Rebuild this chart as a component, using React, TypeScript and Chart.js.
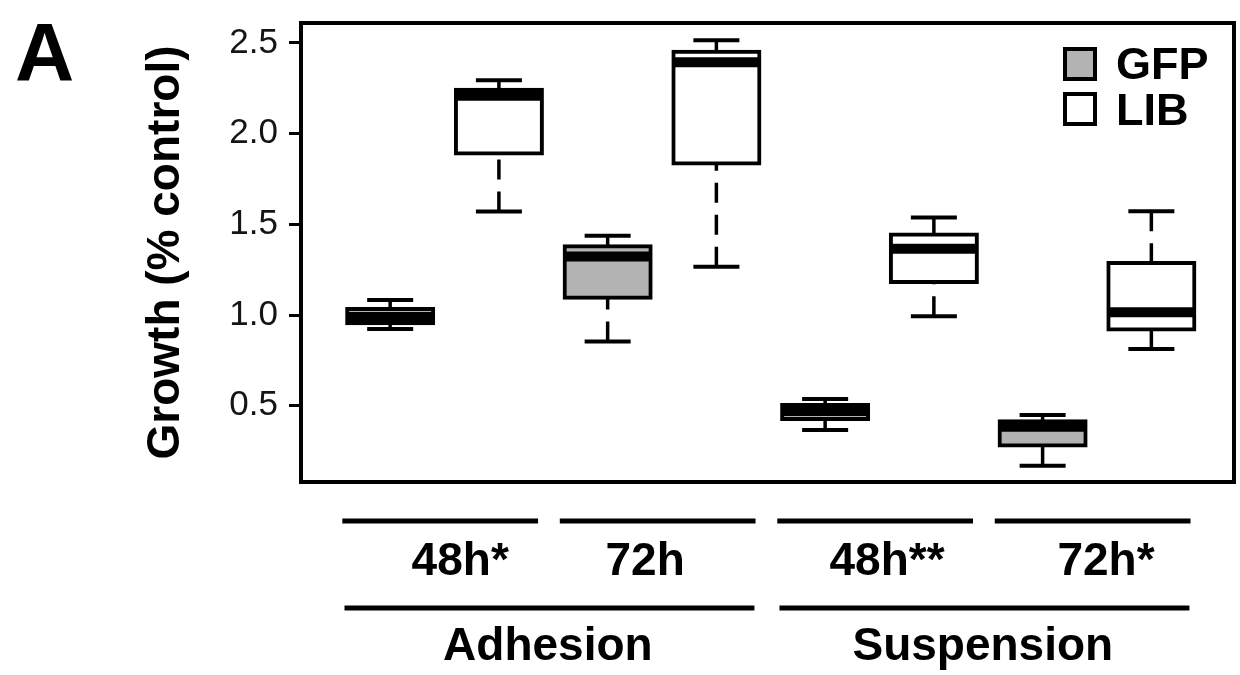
import React, { useEffect, useRef } from 'react';
import { Chart, registerables } from 'chart.js';

Chart.register(...registerables);

// ---------- data ----------
const SERIES_NAMES = ['GFP', 'LIB'];
const CONDITIONS = ['Adhesion', 'Suspension'];
const TIME_LABELS = ['48h*', '72h', '48h**', '72h*'];

// box positions on the x axis (GFP / LIB alternate)
const GFP_POSITIONS = [1, 3, 5, 7];
const LIB_POSITIONS = [2, 4, 6, 8];

// five-number summaries, one value per time group
const GFP_LOW = [0.923, 0.855, 0.366, 0.169];
const GFP_Q1 = [0.955, 1.096, 0.427, 0.281];
const GFP_MEDIAN = [0.989, 1.323, 0.472, 0.384];
const GFP_Q3 = [1.033, 1.38, 0.504, 0.4155];
const GFP_HIGH = [1.083, 1.438, 0.537, 0.449];

const LIB_LOW = [1.571, 1.267, 0.993, 0.813];
const LIB_Q1 = [1.891, 1.836, 1.182, 0.921];
const LIB_MEDIAN = [2.209, 2.393, 1.365, 1.015];
const LIB_Q3 = [2.242, 2.451, 1.444, 1.287];
const LIB_HIGH = [2.294, 2.515, 1.538, 1.573];

const Y_TICKS = [0.5, 1.0, 1.5, 2.0, 2.5];
const Y_MIN = 0.08;
const Y_MAX = 2.61;
const X_MIN = 0.18;
const X_MAX = 8.76;

// ---------- styling ----------
const FONT = '"Liberation Sans", Arial, Helvetica, sans-serif';
const GFP_FILL = '#b3b3b3';
const LIB_FILL = '#ffffff';

type Series = {
  label: string;
  positions: number[];
  low: number[];
  q1: number[];
  median: number[];
  q3: number[];
  high: number[];
  fill: string;
};

const SERIES: Series[] = [
  { label: SERIES_NAMES[0], positions: GFP_POSITIONS, low: GFP_LOW, q1: GFP_Q1, median: GFP_MEDIAN, q3: GFP_Q3, high: GFP_HIGH, fill: GFP_FILL },
  { label: SERIES_NAMES[1], positions: LIB_POSITIONS, low: LIB_LOW, q1: LIB_Q1, median: LIB_MEDIAN, q3: LIB_Q3, high: LIB_HIGH, fill: LIB_FILL },
];

// whiskers, caps and medians drawn through the chart's scales
const boxExtras = {
  id: 'boxExtras',
  afterDatasetsDraw(chart: any) {
    const { ctx } = chart;
    const ys = chart.scales.y;
    SERIES.forEach((s, di) => {
      const meta = chart.getDatasetMeta(di);
      meta.data.forEach((el: any, i: number) => {
        const { x, width } = el.getProps(['x', 'width'], true);
        const yHigh = ys.getPixelForValue(s.high[i]);
        const yLow = ys.getPixelForValue(s.low[i]);
        const yQ1 = ys.getPixelForValue(s.q1[i]);
        const yQ3 = ys.getPixelForValue(s.q3[i]);
        const yMed = ys.getPixelForValue(s.median[i]);
        ctx.save();
        ctx.strokeStyle = '#000';
        ctx.lineCap = 'butt';
        // dashed whiskers (from whisker end towards the box)
        ctx.lineWidth = 3.5;
        ctx.setLineDash([20, 12]);
        ctx.beginPath();
        ctx.moveTo(x, yHigh);
        ctx.lineTo(x, yQ3);
        ctx.stroke();
        ctx.beginPath();
        ctx.moveTo(x, yLow);
        ctx.lineTo(x, yQ1);
        ctx.stroke();
        // caps
        ctx.setLineDash([]);
        ctx.lineWidth = 4;
        const half = (width * 0.535) / 2;
        ctx.beginPath();
        ctx.moveTo(x - half, yHigh);
        ctx.lineTo(x + half, yHigh);
        ctx.moveTo(x - half, yLow);
        ctx.lineTo(x + half, yLow);
        ctx.stroke();
        // median
        ctx.lineWidth = 10;
        ctx.beginPath();
        ctx.moveTo(x - width / 2, yMed);
        ctx.lineTo(x + width / 2, yMed);
        ctx.stroke();
        ctx.restore();
      });
    });
  },
};

// frame, legend, panel letter and grouping brackets
const decorations = {
  id: 'decorations',
  afterDraw(chart: any) {
    const { ctx, chartArea } = chart;
    const xs = chart.scales.x;
    const { left, top, right, bottom } = chartArea;
    ctx.save();
    // frame
    ctx.strokeStyle = '#000';
    ctx.lineWidth = 4;
    ctx.strokeRect(left, top, right - left, bottom - top);

    // legend inside plot
    ctx.font = `bold 45px ${FONT}`;
    ctx.textAlign = 'left';
    ctx.textBaseline = 'alphabetic';
    chart.data.datasets.forEach((ds: any, i: number) => {
      const bx = right - 169;
      const by = top + 26 + i * 45;
      ctx.fillStyle = ds.backgroundColor;
      ctx.fillRect(bx, by, 30, 30);
      ctx.lineWidth = 4;
      ctx.strokeStyle = '#000';
      ctx.strokeRect(bx, by, 30, 30);
      ctx.fillStyle = '#000';
      ctx.fillText(ds.label, right - 118, top + 56 + i * 46);
    });

    // panel letter
    ctx.font = `bold 82px ${FONT}`;
    ctx.fillStyle = '#000';
    ctx.fillText('A', 15, 80);

    // brackets under the plot
    ctx.lineWidth = 5;
    ctx.strokeStyle = '#000';
    ctx.textAlign = 'center';
    ctx.font = `bold 46px ${FONT}`;
    const timeShift = [0.144, -0.155, 0.069, 0.083];
    TIME_LABELS.forEach((lab, g) => {
      const a = GFP_POSITIONS[g];
      const b = LIB_POSITIONS[g];
      const x1 = xs.getPixelForValue(a - 0.44);
      const x2 = xs.getPixelForValue(b + 0.36);
      ctx.beginPath();
      ctx.moveTo(x1, bottom + 39);
      ctx.lineTo(x2, bottom + 39);
      ctx.stroke();
      ctx.fillText(lab, xs.getPixelForValue((a + b) / 2 + timeShift[g]), bottom + 93);
    });
    CONDITIONS.forEach((lab, c) => {
      const a = GFP_POSITIONS[c * 2];
      const b = LIB_POSITIONS[c * 2 + 1];
      const x1 = xs.getPixelForValue(a - 0.42);
      const x2 = xs.getPixelForValue(b + 0.35);
      ctx.beginPath();
      ctx.moveTo(x1, bottom + 126);
      ctx.lineTo(x2, bottom + 126);
      ctx.stroke();
      ctx.fillText(lab, xs.getPixelForValue((a + b) / 2 - 0.05), bottom + 178);
    });
    ctx.restore();
  },
};

export default function App() {
  const ref = useRef<HTMLCanvasElement | null>(null);

  useEffect(() => {
    if (!ref.current) return;
    const datasets = SERIES.map((s) => ({
      type: 'bar' as const,
      label: s.label,
      data: s.positions.map((p, i) => ({ x: p, y: [s.q1[i], s.q3[i]] })),
      backgroundColor: s.fill,
      borderColor: '#000',
      borderWidth: 4,
      borderSkipped: false,
      inflateAmount: 2,
      barThickness: 86,
      grouped: false,
    }));

    const chart = new Chart(ref.current, {
      type: 'bar',
      data: { datasets: datasets as any },
      options: {
        animation: false,
        responsive: false,
        maintainAspectRatio: false,
        devicePixelRatio: 1,
        layout: { padding: { left: 0, top: 23, right: 6, bottom: 193 } },
        plugins: { legend: { display: false }, tooltip: { enabled: false }, title: { display: false } },
        scales: {
          x: {
            type: 'linear',
            display: false,
            min: X_MIN,
            max: X_MAX,
            offset: false,
            grid: { display: false, offset: false },
          },
          y: {
            type: 'linear',
            position: 'left',
            min: Y_MIN,
            max: Y_MAX,
            afterBuildTicks: (scale: any) => {
              scale.ticks = Y_TICKS.map((v) => ({ value: v }));
            },
            afterFit: (scale: any) => {
              scale.width = 301;
              scale.paddingTop = 0;
              scale.paddingBottom = 0;
            },
            ticks: {
              color: '#151515',
              font: { family: FONT, size: 35 },
              padding: 11,
              callback: (v: any) => Number(v).toFixed(1),
            },
            grid: {
              display: true,
              drawOnChartArea: false,
              drawTicks: true,
              tickLength: 12,
              lineWidth: 3,
              color: '#000',
            },
            border: { display: false },
            title: {
              display: true,
              text: 'Growth (% control)',
              color: '#000',
              font: { family: FONT, size: 46, weight: 'bold', lineHeight: 1.2 },
              padding: { top: 139, bottom: 0 },
            },
          },
        },
      } as any,
      plugins: [boxExtras, decorations],
    });
    return () => chart.destroy();
  }, []);

  return (
    <div style={{ position: 'absolute', left: 0, top: 0, width: 1240, height: 675, background: '#fff' }}>
      <canvas ref={ref} width={1240} height={675} style={{ width: 1240, height: 675, display: 'block' }} />
    </div>
  );
}
